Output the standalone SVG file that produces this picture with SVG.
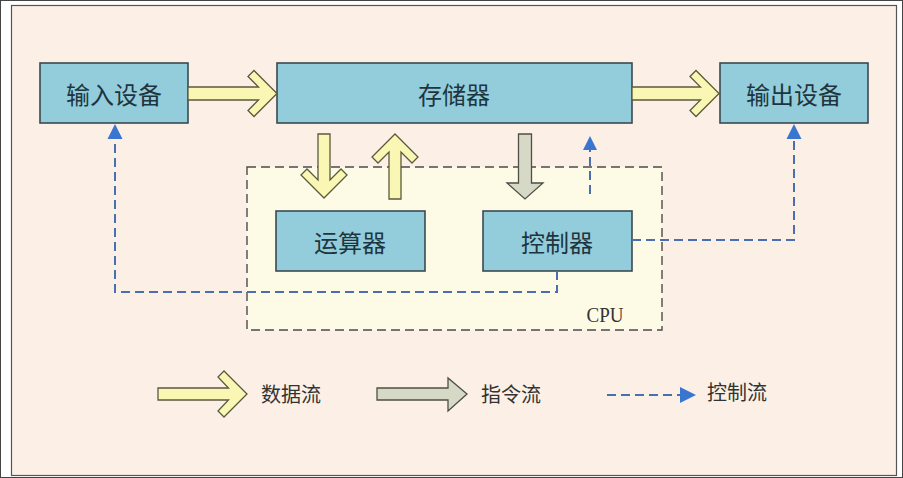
<svg xmlns="http://www.w3.org/2000/svg" width="903" height="478" viewBox="0 0 903 478">
<style>
.box{fill:#93CDDC;stroke:#3a4a50;stroke-width:1.6}
.lbl{font-family:"Noto Sans CJK SC","Noto Sans",sans-serif;font-size:24px;fill:#1e3540;text-anchor:middle;dominant-baseline:central}
.leg{font-family:"Noto Sans CJK SC","Noto Sans",sans-serif;font-size:20px;fill:#333;dominant-baseline:central}
.data{fill:#FAF6B4;stroke:#5a5a3c;stroke-width:1.3;stroke-linejoin:miter}
.instr{fill:#D7D9C7;stroke:#4f4f47;stroke-width:1.3}
.ctrl{fill:none;stroke:#4a6fb0;stroke-width:2;stroke-dasharray:9 5}
.head{fill:#3a76cf}
</style>
<rect x="0.5" y="0.5" width="902" height="477" fill="#ffffff" stroke="#444" stroke-width="1"/>
<rect x="11.5" y="5.5" width="885" height="470" fill="#FCF0E6" stroke="#555" stroke-width="1.2"/>
<g id="cpu">
<rect x="247" y="167" width="415" height="163" fill="#FDFAE6" stroke="#4a4a4a" stroke-width="1.4" stroke-dasharray="9 5"/>
<text x="605" y="322" font-family="Liberation Serif, serif" font-size="20" fill="#333" text-anchor="middle" textLength="37" lengthAdjust="spacingAndGlyphs">CPU</text>
</g>
<g id="input"><rect class="box" x="40" y="63" width="148" height="60"/><text class="lbl" x="114" y="93">输入设备</text></g>
<g id="memory"><rect class="box" x="277" y="63" width="355" height="60"/><text class="lbl" x="454" y="93">存储器</text></g>
<g id="output"><rect class="box" x="720" y="63" width="148" height="60"/><text class="lbl" x="794" y="93">输出设备</text></g>
<g id="alu"><rect class="box" x="276" y="211" width="149" height="60"/><text class="lbl" x="350" y="241">运算器</text></g>
<g id="controller"><rect class="box" x="483" y="211" width="149" height="60"/><text class="lbl" x="557" y="241">控制器</text></g>
<g id="connectors">
<polygon class="data" points="188,87 258.5,87 248,76.5 254,70.5 277,93.5 254,116.5 248,110.5 258.5,100 188,100"/>
<polygon class="data" points="632,87 700.5,87 690,76.5 696,70.5 719,93.5 696,116.5 690,110.5 700.5,100 632,100"/>
<polygon class="data" points="318,134 330,134 330,180 341,169 347,175 324,198 301,175 307,169 318,180"/>
<polygon class="data" points="389,199 401,199 401,152 412,163 418,157 395,134 372,157 378,163 389,152"/>
<polygon class="instr" points="518.5,134 531.5,134 531.5,183 543,183 525,199 507,183 518.5,183"/>
<path class="ctrl" d="M557,271 V292 H115 V139"/>
<polygon class="head" points="115,124 122.5,139 107.5,139"/>
<path class="ctrl" d="M632,240 H794 V139"/>
<polygon class="head" points="794,124 801.5,139 786.5,139"/>
<path class="ctrl" d="M590,194 V150"/>
<polygon class="head" points="590,136 597,150 583,150"/>
</g>
<g id="legend">
<polygon class="data" points="158,388 228.5,388 218,377 224,371 247,394 224,417 218,411 228.5,400 158,400"/>
<text class="leg" x="261" y="393">数据流</text>
<polygon class="instr" points="377,388 448,388 448,378 467,394 448,411 448,400 377,400"/>
<text class="leg" x="481" y="393">指令流</text>
<path class="ctrl" d="M607,395 H681"/>
<polygon class="head" points="680,387 696,395 680,403"/>
<text class="leg" x="707" y="391">控制流</text>
</g>
</svg>
